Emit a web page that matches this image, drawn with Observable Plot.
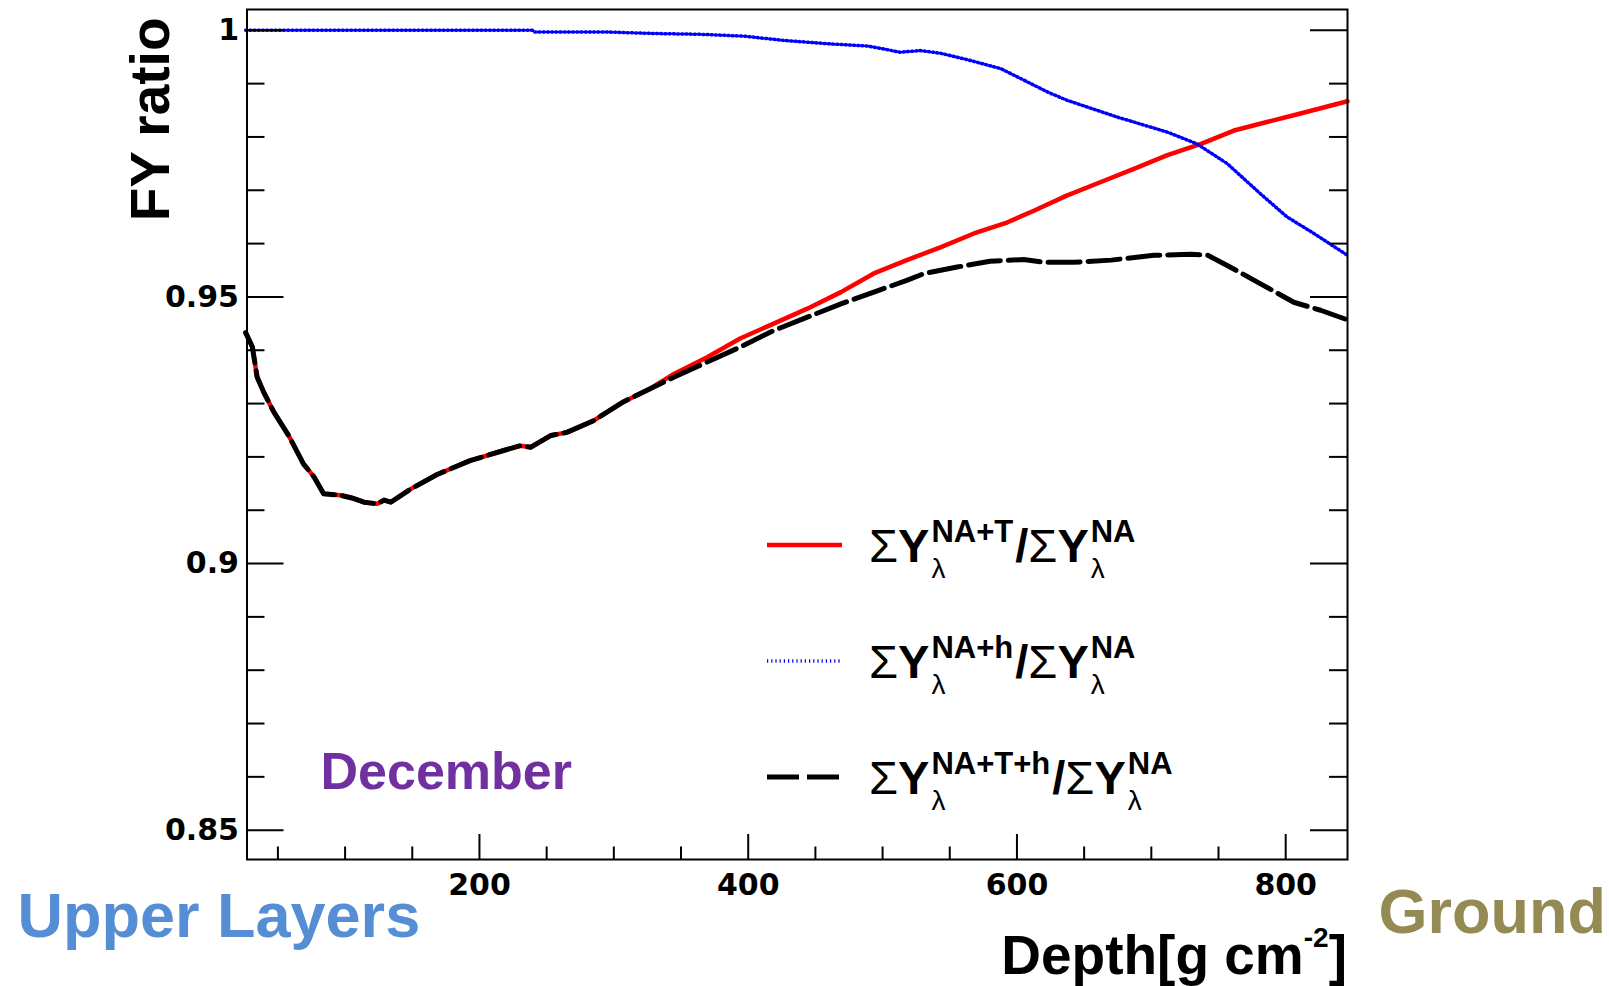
<!DOCTYPE html>
<html>
<head>
<meta charset="utf-8">
<script src="https://cdn.jsdelivr.net/npm/d3@7"></script>
<script src="https://cdn.jsdelivr.net/npm/@observablehq/plot@0.6"></script>
<style>
  html, body { margin: 0; padding: 0; background: #fff; }
  #chart { position: relative; width: 1609px; height: 986px; overflow: hidden; }
</style>
</head>
<body>
<div id="chart"></div>
<script>
// ---------- data ----------
const redDepth = [26, 31, 34.5, 39.5, 47, 58, 69, 77, 84, 96.5, 105, 114, 124, 129, 134, 149, 168.5, 193, 218, 230.5, 238, 253, 265, 285, 307, 327, 345, 369.5, 394, 419, 444, 469, 493.5, 518, 543, 568, 593, 613, 637, 662, 687, 712, 737, 761.5, 786, 811, 846];
const redRatio = [0.9433, 0.9406, 0.9350, 0.9321, 0.9284, 0.9240, 0.9187, 0.9162, 0.9131, 0.9128, 0.9123, 0.9115, 0.9112, 0.9119, 0.9115, 0.9140, 0.9167, 0.9193, 0.9212, 0.9221, 0.9218, 0.9240, 0.9246, 0.9268, 0.9303, 0.9328, 0.9356, 0.9387, 0.9422, 0.9450, 0.9478, 0.9509, 0.9544, 0.9569, 0.9593, 0.9619, 0.9640, 0.9662, 0.9690, 0.9715, 0.9740, 0.9766, 0.9787, 0.9812, 0.9828, 0.9844, 0.9867];

const blueDepth = [26, 240, 241, 292.5, 330, 364.5, 397, 426.5, 464, 489, 513, 528, 543, 563, 588, 608, 623, 637, 675, 712, 734, 756.5, 781, 801, 821, 846];
const blueRatio = [1.0000, 1.0000, 0.9997, 0.9997, 0.9994, 0.99925, 0.9989, 0.9981, 0.9974, 0.99705, 0.9959, 0.9962, 0.9957, 0.9945, 0.9928, 0.9903, 0.9884, 0.9869, 0.9837, 0.9809, 0.9787, 0.9750, 0.9694, 0.9650, 0.9619, 0.9578];

const blackDepth = [26, 31, 34.5, 39.5, 47, 58, 69, 77, 84, 96.5, 105, 114, 124, 129, 134, 149, 168.5, 193, 218, 230.5, 238, 253, 265, 285, 307, 327, 345, 369.5, 394, 419, 444, 469, 493.5, 518, 531, 555.5, 580, 605, 620, 642, 670, 702, 729, 742, 756.5, 781, 806, 826, 846];
const blackRatio = [0.9433, 0.9406, 0.9350, 0.9321, 0.9284, 0.9240, 0.9187, 0.9162, 0.9131, 0.9128, 0.9123, 0.9115, 0.9112, 0.9119, 0.9115, 0.9140, 0.9167, 0.9193, 0.9212, 0.9221, 0.9218, 0.9240, 0.9246, 0.9268, 0.9303, 0.9328, 0.9350, 0.9378, 0.9406, 0.9437, 0.9462, 0.9487, 0.9509, 0.9531, 0.9544, 0.9556, 0.9567, 0.9570, 0.9565, 0.9565, 0.9569, 0.9578, 0.9580, 0.9578, 0.9559, 0.9525, 0.9490, 0.9475, 0.9457];

const xMajorTicks = [200, 400, 600, 800];
const xMinorTicks = [50, 100, 150, 250, 300, 350, 450, 500, 550, 650, 700, 750];
const yMajorTicks = [0.85, 0.9, 0.95, 1];
const yMinorTicks = [0.86, 0.87, 0.88, 0.89, 0.91, 0.92, 0.93, 0.94, 0.96, 0.97, 0.98, 0.99];

const legendSup = ["NA+T", "NA+h", "NA+T+h"];
const xTitle = "Depth[g cm";
const xTitleSup = "-2";
const yTitle = "FY ratio";
const monthLabel = "December";
const leftLabel = "Upper Layers";
const rightLabel = "Ground";

// ---------- layout ----------
const W = 1609, H = 986;
const ML = 246.5, MR = 262, MT = 9, MB = 127;
const FW = W - ML - MR, FH = H - MT - MB;
const SANS = "'Liberation Sans', Arial, Helvetica, sans-serif";
const TICKFONT = "'DejaVu Sans', sans-serif";

const seriesStyle = [
  {stroke: "#ff0000", strokeWidth: 4.5, dash: null},
  {stroke: "#0000ff", strokeWidth: 3.5, dash: "1.2,3"},
  {stroke: "#000000", strokeWidth: 5, dash: "32,8"}
];

const chart = Plot.plot({
  width: W, height: H,
  marginLeft: ML, marginRight: MR, marginTop: MT, marginBottom: MB,
  x: {domain: [27, 846]},
  y: {domain: [0.8445, 1.0039]},
  style: {background: "#fff", overflow: "visible"},
  marks: [
    Plot.line(redRatio, {x: redDepth, y: redRatio, stroke: seriesStyle[0].stroke, strokeWidth: seriesStyle[0].strokeWidth}),
    Plot.line(blueRatio, {x: blueDepth, y: blueRatio, stroke: seriesStyle[1].stroke, strokeWidth: seriesStyle[1].strokeWidth, strokeDasharray: seriesStyle[1].dash}),
    Plot.line(blackRatio, {x: blackDepth, y: blackRatio, stroke: seriesStyle[2].stroke, strokeWidth: seriesStyle[2].strokeWidth, strokeDasharray: seriesStyle[2].dash}),
    // inward ticks, left and right
    Plot.tickY(yMajorTicks, {y: d => d, insetRight: FW - 37, stroke: "#000", strokeWidth: 2}),
    Plot.tickY(yMajorTicks, {y: d => d, insetLeft: FW - 37, stroke: "#000", strokeWidth: 2}),
    Plot.tickY(yMinorTicks, {y: d => d, insetRight: FW - 18, stroke: "#000", strokeWidth: 2}),
    Plot.tickY(yMinorTicks, {y: d => d, insetLeft: FW - 18, stroke: "#000", strokeWidth: 2}),
    // inward ticks, bottom
    Plot.tickX(xMajorTicks, {x: d => d, insetTop: FH - 25, stroke: "#000", strokeWidth: 2}),
    Plot.tickX(xMinorTicks, {x: d => d, insetTop: FH - 12.5, stroke: "#000", strokeWidth: 2}),
    Plot.frame({stroke: "#000", strokeWidth: 2}),
    Plot.axisX(xMajorTicks, {tickSize: 0, tickPadding: 14, fontSize: 30, fontWeight: "bold", fontFamily: TICKFONT, fill: "#000", label: null, tickFormat: d => String(d)}),
    Plot.axisY(yMajorTicks, {tickSize: 0, tickPadding: 8, fontSize: 30, fontWeight: "bold", fontFamily: TICKFONT, fill: "#000", label: null, tickFormat: d => String(d)}),
    Plot.text([yTitle], {text: d => d, frameAnchor: "top-left", rotate: -90, textAnchor: "end", lineAnchor: "bottom", dx: -78.5, dy: 8, fontSize: 55, fontWeight: "bold", fontFamily: SANS, fill: "#000"}),
    Plot.text([monthLabel], {text: d => d, frameAnchor: "bottom-left", textAnchor: "start", lineAnchor: "bottom", dx: 73.5, dy: -71, fontSize: 52, fontWeight: "bold", fontFamily: SANS, fill: "#7030a0"}),
    Plot.text([leftLabel], {text: d => d, frameAnchor: "bottom-left", textAnchor: "start", lineAnchor: "bottom", dx: -229.5, dy: 77, fontSize: 63, fontWeight: "bold", fontFamily: SANS, fill: "#558ed5"}),
    Plot.text([rightLabel], {text: d => d, frameAnchor: "bottom-right", textAnchor: "start", lineAnchor: "bottom", dx: 31, dy: 73, fontSize: 63, fontWeight: "bold", fontFamily: SANS, fill: "#948a54"})
  ]
});

document.getElementById("chart").appendChild(chart);
const svg = d3.select(chart);

// ---------- x-axis title with superscript ----------
const xt = svg.append("text")
  .attr("x", W - MR).attr("y", 974)
  .attr("text-anchor", "end")
  .attr("font-family", SANS).attr("font-weight", "bold").attr("font-size", 55)
  .attr("fill", "#000");
xt.append("tspan").text(xTitle);
xt.append("tspan").attr("dy", -27).attr("font-size", 28).text(xTitleSup);
xt.append("tspan").attr("dy", 27).text("]");

// ---------- legend ----------
const lg = svg.append("g").attr("text-anchor", "start");
const legendBase = [562, 678, 794];
function put(g, x, y, str, size, weight) {
  const t = g.append("text").attr("x", x).attr("y", y)
    .attr("text-anchor", "start")
    .attr("font-family", SANS).attr("font-size", size).attr("font-weight", weight)
    .attr("fill", "#000").text(str);
  return t.node().getComputedTextLength();
}
legendSup.forEach((sup, i) => {
  const base = legendBase[i];
  const st = seriesStyle[i];
  lg.append("line")
    .attr("x1", 767).attr("x2", 842).attr("y1", base - 17).attr("y2", base - 17)
    .attr("stroke", st.stroke).attr("stroke-width", st.strokeWidth)
    .attr("stroke-dasharray", st.dash);
  let x = 869;
  const pair = (s1, s2) => {
    const a = put(lg, x + 2, base - 20, s1, 31, "bold");
    const b = put(lg, x + 2, base + 16, s2, 28, "normal");
    x += Math.max(a, b) + 4;
  };
  x += put(lg, x, base, "Σ", 47, "normal");
  x += put(lg, x, base, "Y", 47, "bold");
  pair(sup, "λ");
  x += put(lg, x, base, "/", 47, "bold");
  x += put(lg, x, base, "Σ", 47, "normal");
  x += put(lg, x, base, "Y", 47, "bold");
  pair("NA", "λ");
});
</script>
</body>
</html>
